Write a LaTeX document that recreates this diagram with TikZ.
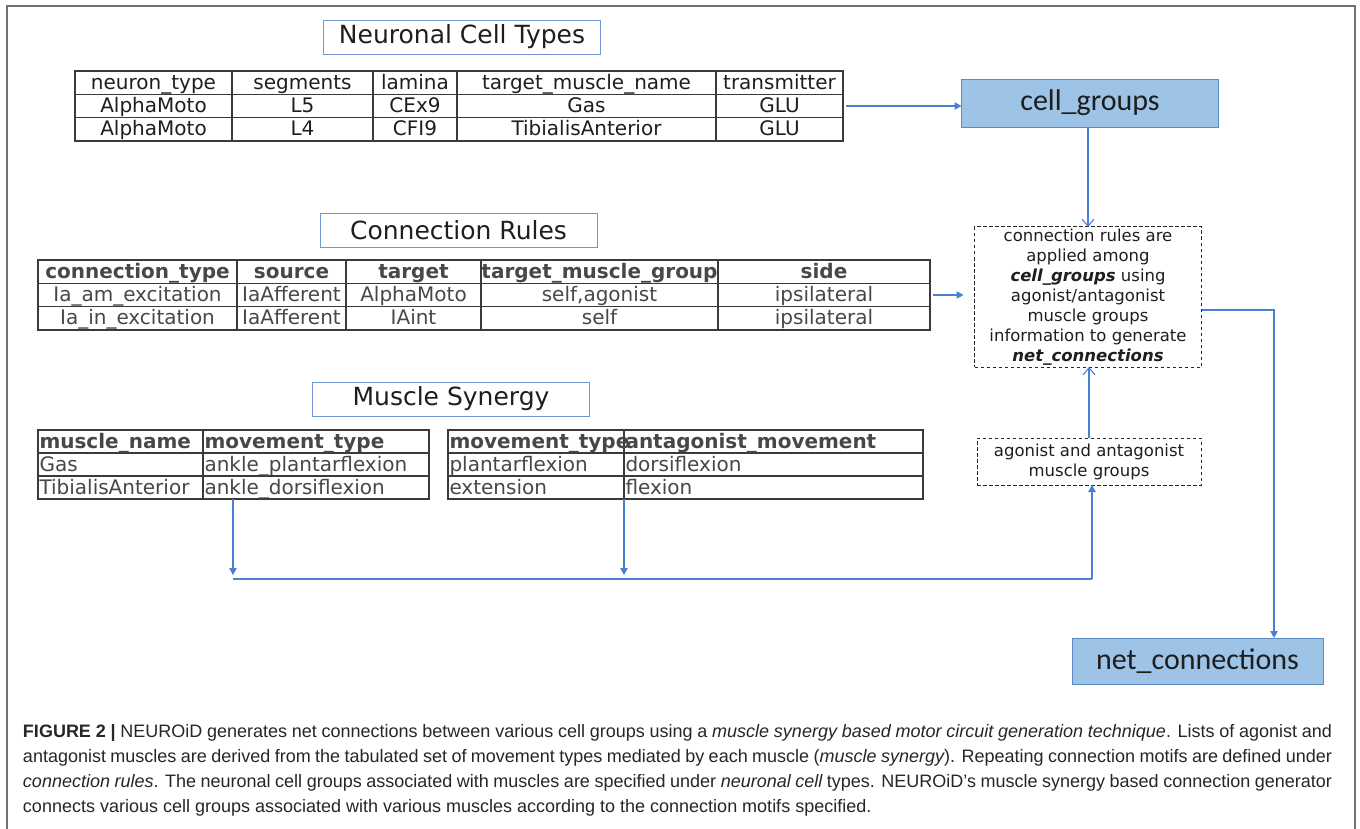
\documentclass[tikz,border=0pt]{standalone}
\usepackage{fontspec}
\setmainfont{DejaVu Sans}
\newfontfamily\carl{Carlito}
\newfontfamily\capfont{Liberation Sans}
\usetikzlibrary{arrows.meta}
\definecolor{arrowblue}{HTML}{4A80D4}
\definecolor{titleblue}{HTML}{7096D4}
\definecolor{boxfill}{HTML}{9DC3E6}
\definecolor{boxline}{HTML}{5B8AC6}
\definecolor{tblline}{HTML}{3A3A3A}
\definecolor{txtdark}{HTML}{1E1E1E}
\definecolor{txtgray}{HTML}{474747}
\definecolor{framegray}{HTML}{707070}
\definecolor{captxt}{HTML}{262626}
\tikzset{
  every node/.style={inner sep=0pt, outer sep=0pt},
  titlebox/.style={draw=titleblue, line width=0.9pt, minimum width=277pt, minimum height=34pt, font=\fontsize{25}{28}\selectfont, text=txtdark},
  tbl/.style={draw=tblline, line width=1.2pt},
  tblframe/.style={tbl, anchor=north west},
  cellc/.style={anchor=base, font=\fontsize{20}{23}\selectfont, text=txtdark},
  cellg/.style={anchor=base, font=\fontsize{20}{23}\selectfont, text=txtgray},
  cellh/.style={anchor=base, font=\fontsize{20}{23}\selectfont\bfseries, text=txtgray},
  celll/.style={anchor=base west, font=\fontsize{20}{23}\selectfont, text=txtgray},
  cellhl/.style={anchor=base west, font=\fontsize{20}{23}\selectfont\bfseries, text=txtgray},
  bluebox/.style={draw=boxline, fill=boxfill, line width=0.9pt, font=\carl\fontsize{30}{34}\selectfont, text=txtdark},
  dbox/.style={draw=black!85, dash pattern=on 3.5pt off 2.5pt, line width=1pt, align=center, font=\fontsize{16.5}{20}\selectfont, text=txtdark},
  conn/.style={draw=arrowblue, line width=1.1pt},
  arr/.style={conn, -{Triangle[length=7pt, width=7.5pt]}},
  openarr/.style={conn, -{Straight Barb[length=7pt, width=12pt]}},
  capline/.style={anchor=base west, font=\capfont\fontsize{18}{21}\selectfont, text=captxt},
}
\begin{document}
\begin{tikzpicture}[x=1pt, y=-1pt]
\useasboundingbox (0,0) rectangle (1360,829);
% outer frame
\draw[framegray, line width=1.6pt] (7,840) -- (7,6) -- (1355,6) -- (1355,840);

% ---------- Neuronal Cell Types ----------
\node[titlebox] (nctitle) at (462,37) {Neuronal Cell Types};
\node[tblframe, minimum width=768pt, minimum height=70pt] (nct) at (75,71) {};
\foreach \x in {232,373,457,716} \draw[tbl] (\x,71) -- (\x,141);
\foreach \y in {94.3,117.6} \draw[tbl] (75,\y) -- (843,\y);
\foreach \cx/\t [count=\i] in {153.5/neuron\_type, 302.5/segments, 415/lamina, 586.5/target\_muscle\_name, 779.5/transmitter}
  \node[cellc] (nct-h\i) at (\cx,89.2) {\t};
\foreach \cx/\t [count=\i] in {153.5/AlphaMoto, 302.5/L5, 415/CEx9, 586.5/Gas, 779.5/GLU}
  \node[cellc] (nct-a\i) at (\cx,112.5) {\t};
\foreach \cx/\t [count=\i] in {153.5/AlphaMoto, 302.5/L4, 415/CFI9, 586.5/TibialisAnterior, 779.5/GLU}
  \node[cellc] (nct-b\i) at (\cx,135.8) {\t};

% ---------- Connection Rules ----------
\node[titlebox] (crtitle) at (458.5,230) {Connection Rules};
\node[tblframe, minimum width=892pt, minimum height=70pt] (crt) at (38,260) {};
\foreach \x in {237,346,481,718} \draw[tbl] (\x,260) -- (\x,330);
\foreach \y in {283.3,306.7} \draw[tbl] (38,\y) -- (930,\y);
\foreach \cx/\t [count=\i] in {137.5/connection\_type, 291.5/source, 413.5/target, 599.5/target\_muscle\_group, 824/side}
  \node[cellh] (crt-h\i) at (\cx,278.2) {\t};
\foreach \cx/\t [count=\i] in {137.5/Ia\_am\_excitation, 291.5/IaAfferent, 413.5/AlphaMoto, 599.5/{self,agonist}, 824/ipsilateral}
  \node[cellg] (crt-a\i) at (\cx,301.5) {\t};
\foreach \cx/\t [count=\i] in {137.5/Ia\_in\_excitation, 291.5/IaAfferent, 413.5/IAint, 599.5/self, 824/ipsilateral}
  \node[cellg] (crt-b\i) at (\cx,324.8) {\t};

% ---------- Muscle Synergy ----------
\node[titlebox] (mstitle) at (451,399) {Muscle Synergy};
\node[tblframe, minimum width=391pt, minimum height=69pt] (mst) at (38,430) {};
\draw[tbl] (203,430) -- (203,499);
\foreach \y in {453,476} \draw[tbl] (38,\y) -- (429,\y);
\node[cellhl] (mst-h1) at (39.5,448) {muscle\_name};
\node[cellhl] (mst-h2) at (204.5,448) {movement\_type};
\node[celll] (mst-a1) at (39.5,471) {Gas};
\node[celll] (mst-a2) at (204.5,471) {ankle\_plantarflexion};
\node[celll] (mst-b1) at (39.5,494) {TibialisAnterior};
\node[celll] (mst-b2) at (204.5,494) {ankle\_dorsiflexion};

\node[tblframe, minimum width=475pt, minimum height=69pt] (amt) at (448,430) {};
\draw[tbl] (624,430) -- (624,499);
\foreach \y in {453,476} \draw[tbl] (448,\y) -- (923,\y);
\node[cellhl] (amt-h1) at (449.5,448) {movement\_type};
\node[cellhl] (amt-h2) at (625.5,448) {antagonist\_movement};
\node[celll] (amt-a1) at (449.5,471) {plantarflexion};
\node[celll] (amt-a2) at (625.5,471) {dorsiflexion};
\node[celll] (amt-b1) at (449.5,494) {extension};
\node[celll] (amt-b2) at (625.5,494) {flexion};

% ---------- right column ----------
\node[bluebox, minimum width=257pt, minimum height=48pt] (cg) at (1090,103) {cell\_groups};
\node[dbox, minimum width=227pt, minimum height=140pt] (db1) at (1088,297)
  {connection rules are\\applied among\\\textbf{\textit{cell\_groups}} using\\agonist/antagonist\\muscle groups\\information to generate\\\textbf{\textit{net\_connections}}};
\node[dbox, minimum width=224pt, minimum height=47pt] (db2) at (1089,461.5)
  {agonist and antagonist\\muscle groups};
\node[bluebox, minimum width=251pt, minimum height=46pt] (net) at (1197.5,661) {net\_connections};

% ---------- connectors ----------
\draw[arr] ([xshift=3pt]nct.east) -- (nct.east -| cg.west);
\draw[openarr] (db1.north |- cg.south) -- (db1.north);
\draw[arr] ([xshift=3pt]crt.east) -- ([xshift=-11pt]crt.east -| db1.west);
\coordinate (bend) at (1274,310);
\draw[arr] ([yshift=-13pt]db1.east) -- (bend) -- (bend |- net.north);
\draw[openarr] (db2.north) -- (db2.north |- db1.south);
\coordinate (j1) at (233,579);
\coordinate (j2) at (624,579);
\coordinate (j3) at (1092,579);
\draw[arr] (mst.south -| j1) -- ([yshift=4pt]j1);
\draw[arr] (amt.south -| j2) -- ([yshift=4pt]j2);
\draw[conn] (j1) -- (j3);
\draw[arr] (j3) -- (j3 |- db2.south);

% ---------- caption ----------
\node[capline] (cap1) at (23,737) {\makebox[1309pt][s]{{\bfseries FIGURE 2 |} NEUROiD generates net connections between various cell groups using a {\itshape muscle synergy based motor circuit generation technique}. Lists of agonist and}};
\node[capline] (cap2) at (23,762) {\makebox[1309pt][s]{antagonist muscles are derived from the tabulated set of movement types mediated by each muscle ({\itshape muscle synergy}). Repeating connection motifs are defined under}};
\node[capline] (cap3) at (23,787) {\makebox[1309pt][s]{{\itshape connection rules}. The neuronal cell groups associated with muscles are specified under {\itshape neuronal cell} types. NEUROiD’s muscle synergy based connection generator}};
\node[capline] (cap4) at (23,812) {connects various cell groups associated with various muscles according to the connection motifs specified.};
\end{tikzpicture}
\end{document}
